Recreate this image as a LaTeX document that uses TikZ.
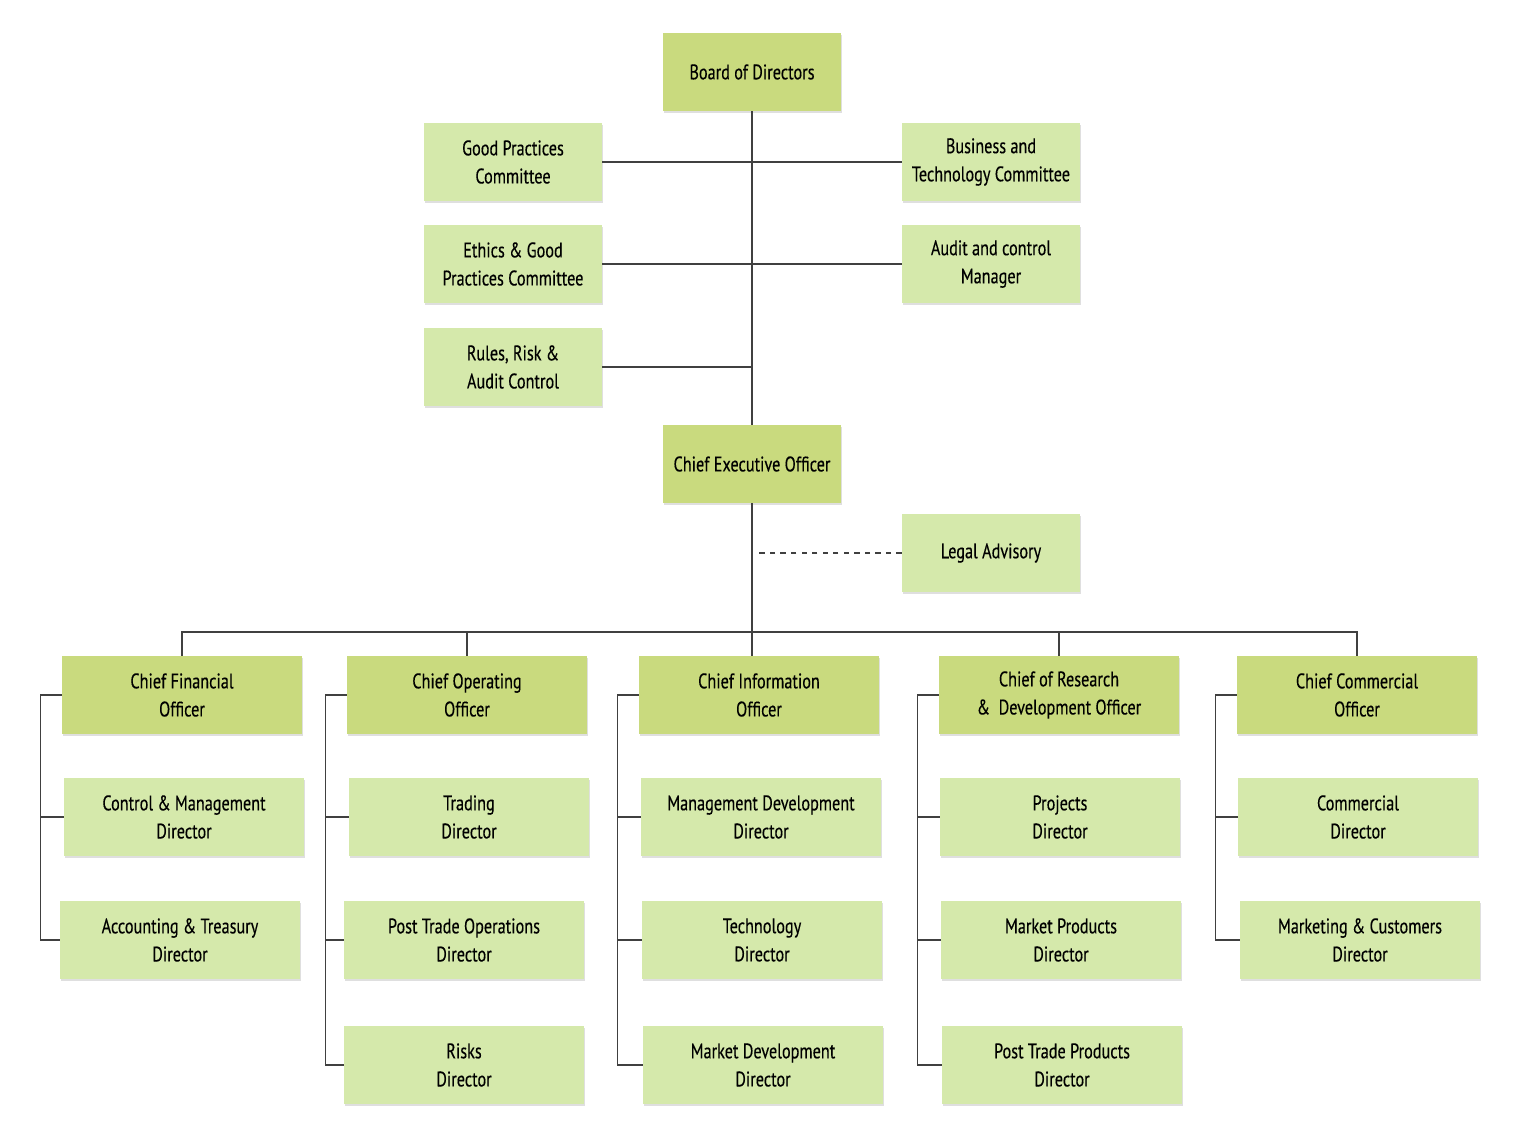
\documentclass[tikz,border=0pt]{standalone}
\usepackage{fontspec}
\setmainfont[FakeStretch=0.77, FakeBold=0.3]{PT Sans}
\usepackage{tikz}
\usetikzlibrary{positioning, shadows}
\definecolor{headgreen}{HTML}{C9DA7E}
\definecolor{subgreen}{HTML}{D5E9AB}

\begin{document}
\begin{tikzpicture}[x=0.02cm, y=-0.02cm,
    box style/.style={rectangle, fill=subgreen, minimum width=3.56cm, minimum height=1.56cm, inner sep=2pt, align=center, text=black, font=\fontsize{12}{16}\selectfont, drop shadow={shadow xshift=0.7pt, shadow yshift=-0.9pt, fill=black!25}},
    head style/.style={box style, fill=headgreen},
    wide/.style={minimum width=4.8cm},
    link/.style={draw=black!75, line width=0.6pt}
]
        \useasboundingbox (0,0) rectangle (1518,1138);

        % board level
        \node[head style] (board) at (752,72) {Board of Directors};
        \node[box style] (good) at (513,162) {Good Practices\\Committee};
        \node[box style] (business) at (991,162) {Business and\\Technology Committee};
        \node[box style] (ethics) at (513,264) {Ethics \& Good\\Practices Committee};
        \node[box style] (audit) at (991,264) {Audit and control\\Manager};
        \node[box style] (rules) at (513,367) {Rules, Risk \&\\Audit Control};
        \node[head style] (ceo) at (752,464) {Chief Executive Officer};
        \node[box style] (legal) at (991,553) {Legal Advisory};

        \draw[link] (board) -- (ceo);
        \draw[link] (good) -- (business);
        \draw[link] (ethics) -- (audit);
        \draw[link] (rules.east) -- (rules.east -| board);
        \draw[link, dashed] (legal.west) -- ([xshift=0.06cm]legal.west -| ceo);

        % officers
        \node[head style, wide] (cfo) at (182,695) {Chief Financial\\Officer};
        \node[head style, wide] (coo) at (467,695) {Chief Operating\\Officer};
        \node[head style, wide] (cio) at (759,695) {Chief Information\\Officer};
        \node[head style, wide] (crdo) at (1059,695) {Chief of Research\\\&~~Development Officer};
        \node[head style, wide] (cco) at (1357,695) {Chief Commercial\\Officer};

        \coordinate (bus) at (752,632);
        \draw[link] (ceo) -- (bus);
        \draw[link] (cfo.north) -- (cfo.north |- bus) -- (cco.north |- bus) -- (cco.north);
        \draw[link] (coo.north) -- (coo.north |- bus);
        \draw[link] (bus) -- (bus |- cio.north);
        \draw[link] (crdo.north) -- (crdo.north |- bus);

        % directors
        \node[box style, wide] (control) at (184,817) {Control \& Management\\Director};
        \node[box style, wide] (accounting) at (180,940) {Accounting \& Treasury\\Director};

        \node[box style, wide] (trading) at (469,817) {Trading\\Director};
        \node[box style, wide] (postops) at (464,940) {Post Trade Operations\\Director};
        \node[box style, wide] (risks) at (464,1065) {Risks\\Director};

        \node[box style, wide] (mgmtdev) at (761,817) {Management Development\\Director};
        \node[box style, wide] (technology) at (762,940) {Technology\\Director};
        \node[box style, wide] (marketdev) at (763,1065) {Market Development\\Director};

        \node[box style, wide] (projects) at (1060,817) {Projects\\Director};
        \node[box style, wide] (marketprod) at (1061,940) {Market Products\\Director};
        \node[box style, wide] (posttrade) at (1062,1065) {Post Trade Products\\Director};

        \node[box style, wide] (commercial) at (1358,817) {Commercial\\Director};
        \node[box style, wide] (marketing) at (1360,940) {Marketing \& Customers\\Director};

        % brackets
        \draw[link] (cfo.west) -- ++(-21,0) coordinate (cfo spine) |- (accounting.west);
        \draw[link] (cfo spine |- control) -- (control.west);

        \draw[link] (coo.west) -- ++(-21,0) coordinate (coo spine) |- (risks.west);
        \draw[link] (coo spine |- trading) -- (trading.west);
        \draw[link] (coo spine |- postops) -- (postops.west);

        \draw[link] (cio.west) -- ++(-21,0) coordinate (cio spine) |- (marketdev.west);
        \draw[link] (cio spine |- mgmtdev) -- (mgmtdev.west);
        \draw[link] (cio spine |- technology) -- (technology.west);

        \draw[link] (crdo.west) -- ++(-21,0) coordinate (crdo spine) |- (posttrade.west);
        \draw[link] (crdo spine |- projects) -- (projects.west);
        \draw[link] (crdo spine |- marketprod) -- (marketprod.west);

        \draw[link] (cco.west) -- ++(-21,0) coordinate (cco spine) |- (marketing.west);
        \draw[link] (cco spine |- commercial) -- (commercial.west);
    \end{tikzpicture}
\end{document}
